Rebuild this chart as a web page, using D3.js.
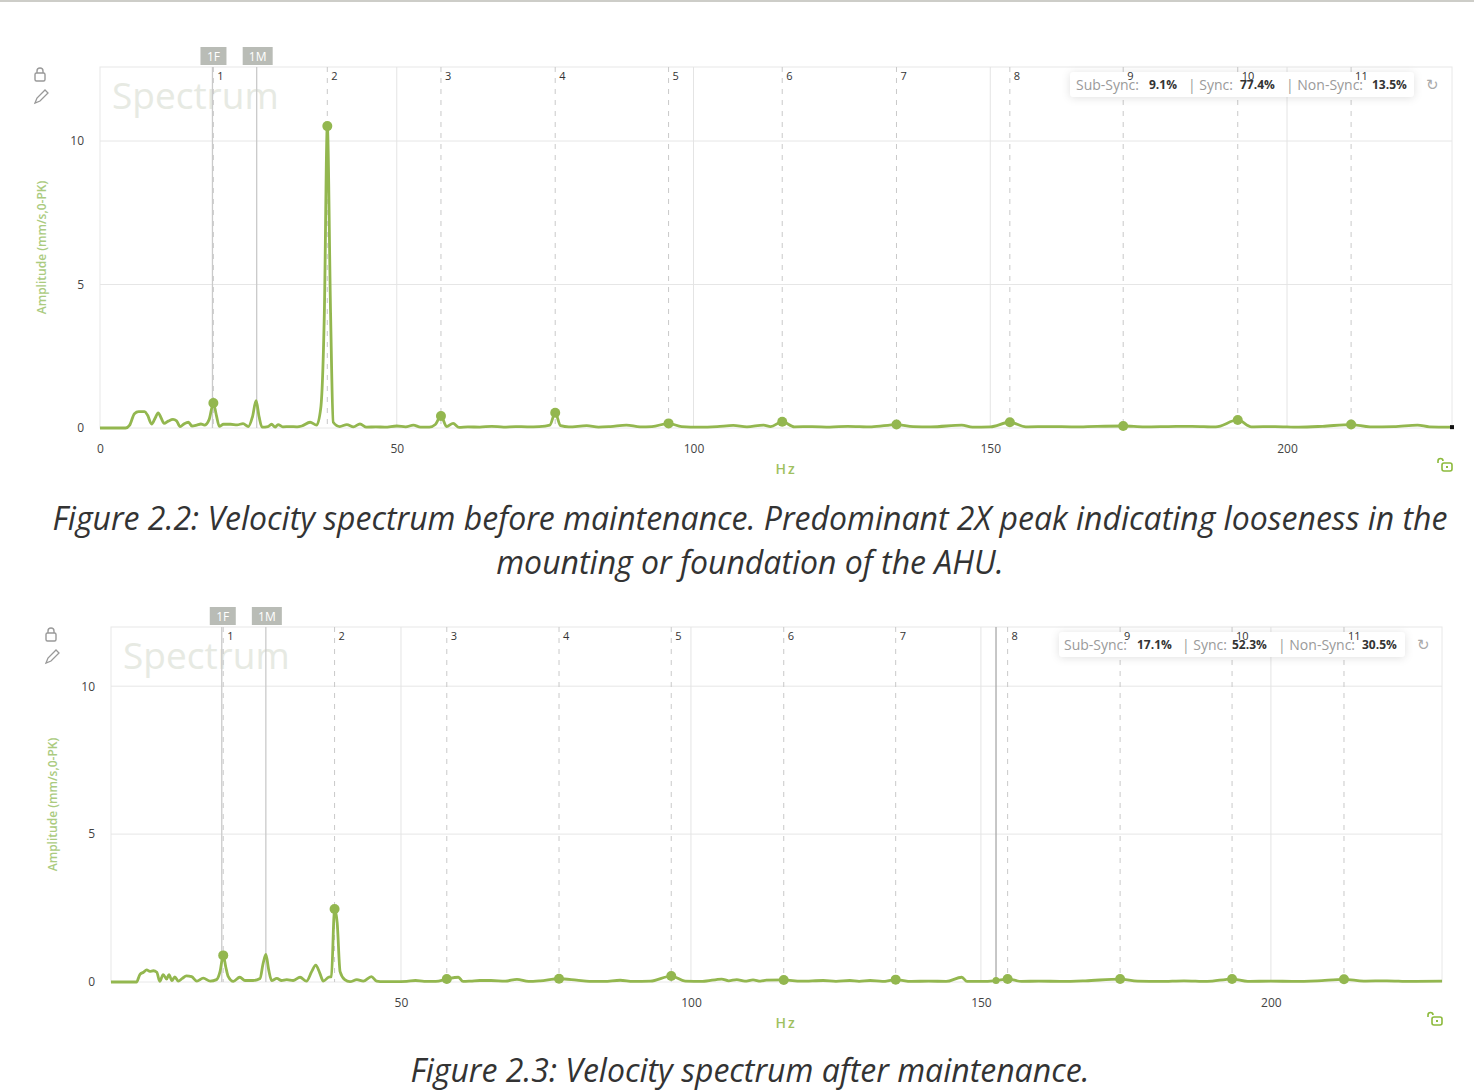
<!DOCTYPE html>
<html>
<head>
<meta charset="utf-8">
<script src="https://cdnjs.cloudflare.com/ajax/libs/d3/7.8.5/d3.min.js"></script>
<style>
  body { margin: 0; background: #fff; }
  svg text { font-family: "Open Sans", "Noto Sans", sans-serif; }
</style>
</head>
<body>
<script>
// ---- data ----
var xTicks1 = [0, 50, 100, 150, 200];
var xTicks2 = [50, 100, 150, 200];
var yTicks = [0, 5, 10];
var harmonicNums = [1, 2, 3, 4, 5, 6, 7, 8, 9, 10, 11];

// before maintenance
var spec1Hz = [0, 4.3, 5.0, 5.8, 6.5, 7.5, 8.0, 8.7, 9.3, 9.8, 10.3, 10.8, 11.5, 12.3, 12.9, 13.5, 14.2, 14.9, 15.5, 16.3,
  17.0, 17.6, 18.4, 19.1, 19.6, 20.1, 20.8, 22.0, 23.1, 24.1, 25.0, 25.7, 26.3, 26.8, 27.3, 28.3, 28.9, 29.5, 30.0, 30.8,
  32.0, 33.2, 34.0, 35.4, 36.5, 37.2, 37.8, 38.3, 38.85, 39.3, 40.4, 41.6, 42.7, 43.8, 44.9, 46.5, 48.0, 50.0, 51.5, 52.8,
  54.0, 55.5, 56.5, 57.45, 58.4, 59.5, 60.5, 62, 64, 66, 68, 70, 72, 74, 75.8, 76.7, 77.6, 79, 82, 84, 86, 88.7, 91, 93,
  95.8, 98, 101, 104, 106.7, 109, 111.8, 113, 114.95, 117, 120, 123, 126, 130, 134.2, 137, 140, 145.2, 147, 150, 153.3,
  156, 160, 164, 168, 172.4, 176, 180, 184, 188, 191.7, 194, 198, 202, 206, 210.8, 214, 218, 222, 224, 227.8];
var spec1Amp = [0, 0, 0.1, 0.5, 0.57, 0.57, 0.45, 0.14, 0.35, 0.53, 0.35, 0.16, 0.24, 0.3, 0.25, 0.05, 0.15, 0.2, 0.07, 0.1,
  0.14, 0.1, 0.3, 0.87, 0.45, 0.06, 0.13, 0.13, 0.11, 0.15, 0.05, 0.4, 0.95, 0.4, 0.03, 0.05, 0.13, 0.03, 0.12, 0.04,
  0.05, 0.04, 0.07, 0.2, 0.1, 0.7, 4.0, 10.52, 4.0, 0.2, 0.05, 0.12, 0.04, 0.14, 0.03, 0.04, 0.03, 0.07, 0.04, 0.1,
  0.03, 0.03, 0.12, 0.42, 0.05, 0.16, 0.02, 0.04, 0.03, 0.06, 0.03, 0.05, 0.04, 0.05, 0.1, 0.53, 0.08, 0.04, 0.08, 0.03, 0.05, 0.1, 0.04, 0.05,
  0.16, 0.05, 0.03, 0.05, 0.09, 0.04, 0.1, 0.05, 0.22, 0.04, 0.05, 0.03, 0.06, 0.04, 0.12, 0.05, 0.04, 0.1, 0.03, 0.04, 0.2,
  0.04, 0.05, 0.04, 0.06, 0.07, 0.04, 0.05, 0.06, 0.04, 0.28, 0.04, 0.05, 0.03, 0.06, 0.12, 0.04, 0.05, 0.1, 0.04, 0.03];
var harm1Hz = [19.1, 38.3, 57.45, 76.7, 95.8, 114.95, 134.2, 153.3, 172.4, 191.7, 210.8];
var harm1Amp = [0.87, 10.52, 0.42, 0.53, 0.16, 0.22, 0.12, 0.2, 0.07, 0.28, 0.12];
var ff1 = 18.95, fm1 = 26.4;
var sync1 = ["9.1%", "77.4%", "13.5%"];

// after maintenance
var spec2Hz = [0, 4.4, 5.0, 5.6, 6.15, 6.7, 7.3, 7.9, 8.4, 9.0, 9.6, 10.0, 10.5, 11.0, 11.6, 12.3, 13.0, 13.9, 14.8, 15.9,
  17.1, 18.2, 18.8, 19.35, 19.8, 20.2, 21.1, 22.2, 23.1, 24.5, 25.7, 26.2, 26.7, 27.2, 27.7, 28.6, 29.4, 30.3, 31.4, 32.6,
  33.7, 34.6, 35.3, 36.0, 36.6, 37.5, 38.0, 38.55, 39.0, 39.5, 40.3, 41.2, 42.4, 43.5, 44.9, 45.8, 47, 49, 51, 52.5, 54, 56,
  57.9, 59.9, 60.7, 62, 63.6, 65.5, 68, 70, 72, 74, 77.25, 80.3, 82.5, 85, 87.8, 90, 93, 96.6, 99, 102, 105.3, 106.5,
  107.9, 109.3, 110.7, 112, 113, 116.0, 119, 122.8, 125, 127.4, 129, 130.9, 133, 135.3, 138, 141, 144, 146.7, 147.6, 150,
  152.6, 154.6, 157, 160, 164, 168, 174.0, 177, 181, 185, 189, 193.3, 196, 200, 204, 208, 212.6, 216, 220, 224, 229.5];
var spec2Amp = [0, 0, 0.26, 0.33, 0.41, 0.36, 0.38, 0.33, 0.02, 0.25, 0.1, 0.25, 0.05, 0.17, 0.03, 0.12, 0.21, 0.18, 0.03, 0.13,
  0.03, 0.08, 0.35, 0.9, 0.5, 0.19, 0.02, 0.16, 0.05, 0.05, 0.12, 0.6, 0.93, 0.4, 0.05, 0.12, 0.05, 0.08, 0.05, 0.16,
  0.03, 0.35, 0.57, 0.3, 0.03, 0.16, 0.18, 2.47, 2.0, 0.35, 0.08, 0.01, 0.08, 0.03, 0.18, 0.03, 0.01, 0.01, 0.02, 0.05, 0.02, 0.02,
  0.1, 0.16, 0.02, 0.03, 0.05, 0.05, 0.03, 0.09, 0.02, 0.04, 0.11, 0.06, 0.02, 0.02, 0.06, 0.02, 0.03, 0.2, 0.03, 0.02, 0.1, 0.04,
  0.08, 0.03, 0.07, 0.03, 0.06, 0.07, 0.03, 0.05, 0.02, 0.05, 0.02, 0.05, 0.02, 0.08, 0.02, 0.03, 0.02, 0.16, 0.02, 0.02,
  0.05, 0.1, 0.02, 0.03, 0.02, 0.04, 0.1, 0.03, 0.02, 0.04, 0.02, 0.1, 0.02, 0.03, 0.02, 0.04, 0.09, 0.03, 0.04, 0.02, 0.03];
var harm2Hz = [19.35, 38.55, 57.9, 77.25, 96.6, 116.0, 135.3, 154.6, 174.0, 193.3, 212.6];
var harm2Amp = [0.9, 2.47, 0.1, 0.11, 0.2, 0.07, 0.08, 0.1, 0.1, 0.1, 0.09];
var ff2 = 19.1, fm2 = 26.7, cursor2 = 152.6, cursor2Amp = 0.05;
var sync2 = ["17.1%", "52.3%", "30.5%"];

var syncLabels = ["Sub-Sync:", "| Sync:", "| Non-Sync:"];

var captions1 = ["Figure 2.2: Velocity spectrum before maintenance. Predominant 2X peak indicating looseness in the",
  "mounting or foundation of the AHU."];
var captions2 = ["Figure 2.3: Velocity spectrum after maintenance."];

// ---- drawing ----
var W = 1474, H = 1092;
var green = "#93b74f";

var svg = d3.select("body").append("svg")
  .attr("width", W).attr("height", H);

var defs = svg.append("defs");
var sh = defs.append("filter").attr("id", "shadow")
  .attr("x", "-10%").attr("y", "-60%").attr("width", "120%").attr("height", "220%");
sh.append("feDropShadow").attr("dx", 0).attr("dy", 1).attr("stdDeviation", 4)
  .attr("flood-color", "#000").attr("flood-opacity", 0.12);

svg.append("rect").attr("x", 0).attr("y", 0).attr("width", W).attr("height", 2).attr("fill", "#cdcdc8");

function drawChart(c) {
  var x = d3.scaleLinear().domain(c.xDomain).range([c.left, c.right]);
  var y = d3.scaleLinear().domain(c.yDomain).range([c.bottom, c.top]);
  var g = svg.append("g");

  // frame + grid
  g.append("rect").attr("x", c.left).attr("y", c.top)
    .attr("width", c.right - c.left).attr("height", c.bottom - c.top)
    .attr("fill", "none").attr("stroke", "#e8e8e8");

  g.selectAll(".hg").data(yTicks.filter(function(d) { return d > 0; })).enter()
    .append("line")
    .attr("x1", c.left).attr("x2", c.right)
    .attr("y1", function(d) { return y(d); }).attr("y2", function(d) { return y(d); })
    .attr("stroke", "#e6e6e6");

  g.selectAll(".vg").data([50, 100, 150, 200]).enter()
    .append("line")
    .attr("x1", function(d) { return x(d); }).attr("x2", function(d) { return x(d); })
    .attr("y1", c.top).attr("y2", c.bottom)
    .attr("stroke", "#e4e4e4");

  // watermark
  g.append("text").attr("x", c.left + 12).attr("y", c.top + 42)
    .attr("font-size", 37).attr("fill", "#e7eae3").text("Spectrum");

  // harmonic cursors
  g.selectAll(".hl").data(c.harmHz).enter()
    .append("line")
    .attr("x1", function(d) { return x(d); }).attr("x2", function(d) { return x(d); })
    .attr("y1", c.top).attr("y2", c.bottom)
    .attr("stroke", "#c9c9c9").attr("stroke-dasharray", "5,6");

  // 1F / 1M lines
  [[c.ff, "1F"], [c.fm, "1M"]].forEach(function(p) {
    g.append("line").attr("x1", x(p[0])).attr("x2", x(p[0]))
      .attr("y1", c.top).attr("y2", c.bottom)
      .attr("stroke", "#cacaca").attr("stroke-width", 1.3);
    var bw = p[1] == "1F" ? 26 : 30;
    g.append("rect").attr("x", x(p[0]) - bw / 2 + 1).attr("y", c.top - 20)
      .attr("width", bw).attr("height", 18).attr("fill", "#b9bcb6");
    g.append("text").attr("x", x(p[0]) + 1).attr("y", c.top - 6)
      .attr("text-anchor", "middle").attr("font-size", 12).attr("fill", "#fff").text(p[1]);
  });

  if (c.cursor != null) {
    g.append("line").attr("x1", x(c.cursor)).attr("x2", x(c.cursor))
      .attr("y1", c.top).attr("y2", c.bottom)
      .attr("stroke", "#a9a9a9").attr("stroke-width", 1.3);
  }

  // legend box
  var lg = g.append("g").attr("transform", "translate(" + c.legX + "," + c.legY + ")");
  lg.append("rect").attr("x", 0).attr("y", 0).attr("width", c.legW).attr("height", 25)
    .attr("rx", 4).attr("fill", "#fff").attr("filter", "url(#shadow)");
  syncLabels.forEach(function(l, i) {
    lg.append("text").attr("x", c.legOff[2 * i]).attr("y", 18)
      .attr("font-size", 14).attr("fill", "#9a9a9a").text(l);
    lg.append("text").attr("x", c.legOff[2 * i + 1]).attr("y", 17)
      .attr("font-size", 12).attr("font-weight", "bold").attr("fill", "#333").text(c.sync[i]);
  });
  g.append("text").attr("x", c.legX + c.legW + 18).attr("y", c.legY + 18)
    .attr("text-anchor", "middle").attr("font-size", 15).attr("fill", "#aaa").text("\u21bb");

  // harmonic numbers
  g.selectAll(".hn").data(harmonicNums).enter()
    .append("text")
    .attr("x", function(d, i) { return x(c.harmHz[i]) + 4; })
    .attr("y", c.top + 13)
    .attr("font-size", 11).attr("fill", "#333")
    .text(function(d) { return d; });

  // spectrum
  var pts = c.hz.map(function(d, i) { return [d, c.amp[i]]; });
  var line = d3.line()
    .x(function(d) { return x(d[0]); })
    .y(function(d) { return y(d[1]); })
    .curve(d3.curveMonotoneX);
  g.append("path").datum(pts).attr("d", line)
    .attr("fill", "none").attr("stroke", green).attr("stroke-width", 2.8)
    .attr("stroke-linejoin", "round");

  g.selectAll(".mk").data(c.harmAmp).enter()
    .append("circle")
    .attr("cx", function(d, i) { return x(c.harmHz[i]); })
    .attr("cy", function(d) { return y(d); })
    .attr("r", 5).attr("fill", green);

  if (c.cursor != null) {
    g.append("circle").attr("cx", x(c.cursor)).attr("cy", y(c.cursorAmp))
      .attr("r", 3.5).attr("fill", green);
  }
  if (c.endMark) {
    g.append("rect").attr("x", x(c.xDomain[1]) - 2).attr("y", y(0.03) - 2)
      .attr("width", 4).attr("height", 4).attr("fill", "#111");
  }

  // axes
  var xa = g.append("g").attr("transform", "translate(0," + (c.bottom + 8) + ")")
    .call(d3.axisBottom(x).tickValues(c.xTicks).tickSize(0).tickPadding(8));
  xa.select(".domain").remove();
  xa.selectAll("text").attr("font-size", 12).attr("fill", "#444")
    .style("font-family", "'Open Sans', sans-serif");

  var ya = g.append("g").attr("transform", "translate(" + (c.left - 16) + ",0)")
    .call(d3.axisLeft(y).tickValues(yTicks).tickSize(0).tickPadding(0));
  ya.select(".domain").remove();
  ya.selectAll("text").attr("font-size", 12).attr("fill", "#444")
    .style("font-family", "'Open Sans', sans-serif");

  g.append("text")
    .attr("transform", "translate(" + (c.left - 54) + "," + ((c.top + c.bottom) / 2) + ") rotate(-90)")
    .attr("text-anchor", "middle").attr("font-size", 12).attr("font-weight", 600)
    .attr("fill", "#abcb7f").text("Amplitude (mm/s,0-PK)");

  g.append("text").attr("x", 786).attr("y", c.bottom + 46)
    .attr("text-anchor", "middle").attr("font-size", 14).attr("font-weight", 600)
    .attr("letter-spacing", 2).attr("fill", "#9fc15f").text("Hz");

  // icons: lock, pencil, unlock
  var ix = c.left - 60, iy = c.top + 2;
  g.append("rect").attr("x", ix - 5).attr("y", iy + 4).attr("width", 10).attr("height", 8)
    .attr("rx", 1.5).attr("fill", "none").attr("stroke", "#999").attr("stroke-width", 1.4);
  g.append("path").attr("d", "M" + (ix - 3) + "," + (iy + 4) + " v-2 a3,3 0 0 1 6,0 v2")
    .attr("fill", "none").attr("stroke", "#999").attr("stroke-width", 1.4);
  g.append("path")
    .attr("d", "M" + (ix - 5) + "," + (iy + 34) + " l2,-5 l8,-8 l3,3 l-8,8 z")
    .attr("fill", "none").attr("stroke", "#999").attr("stroke-width", 1.3);

  var ux = c.right - 9, uy = c.bottom + 32;
  g.append("rect").attr("x", ux - 1).attr("y", uy + 3).attr("width", 10).attr("height", 8)
    .attr("rx", 2).attr("fill", "none").attr("stroke", "#8cba3c").attr("stroke-width", 1.6);
  g.append("path").attr("d", "M" + (ux - 5) + "," + (uy + 3) + " v-2 a2.5,2.5 0 0 1 5,0")
    .attr("fill", "none").attr("stroke", "#8cba3c").attr("stroke-width", 1.6);
  g.append("rect").attr("x", ux + 3).attr("y", uy + 6).attr("width", 2).attr("height", 2).attr("fill", "#8cba3c");

  // caption
  svg.selectAll(null).data(c.caption).enter()
    .append("text")
    .attr("x", 750).attr("y", function(d, i) { return c.capY + i * 44; })
    .attr("text-anchor", "middle").attr("font-size", 32).attr("font-style", "italic")
    .attr("fill", "#333").text(function(d) { return d; });
}

drawChart({
  hz: spec1Hz, amp: spec1Amp, harmHz: harm1Hz, harmAmp: harm1Amp,
  ff: ff1, fm: fm1, sync: sync1, xTicks: xTicks1,
  xDomain: [0, 227.8], yDomain: [0, 12.58],
  left: 100, right: 1452, top: 67, bottom: 428,
  legX: 1070, legY: 72, legW: 344, legOff: [6, 79, 118, 170, 216, 302], endMark: true,
  caption: captions1, capY: 530
});

drawChart({
  hz: spec2Hz, amp: spec2Amp, harmHz: harm2Hz, harmAmp: harm2Amp,
  ff: ff2, fm: fm2, sync: sync2, xTicks: xTicks2,
  cursor: cursor2, cursorAmp: cursor2Amp,
  xDomain: [0, 229.5], yDomain: [0, 12.0],
  left: 111, right: 1442, top: 627, bottom: 982,
  legX: 1059, legY: 632, legW: 346, legOff: [5, 78, 123, 173, 219, 303], endMark: false,
  caption: captions2, capY: 1082
});
</script>
</body>
</html>
